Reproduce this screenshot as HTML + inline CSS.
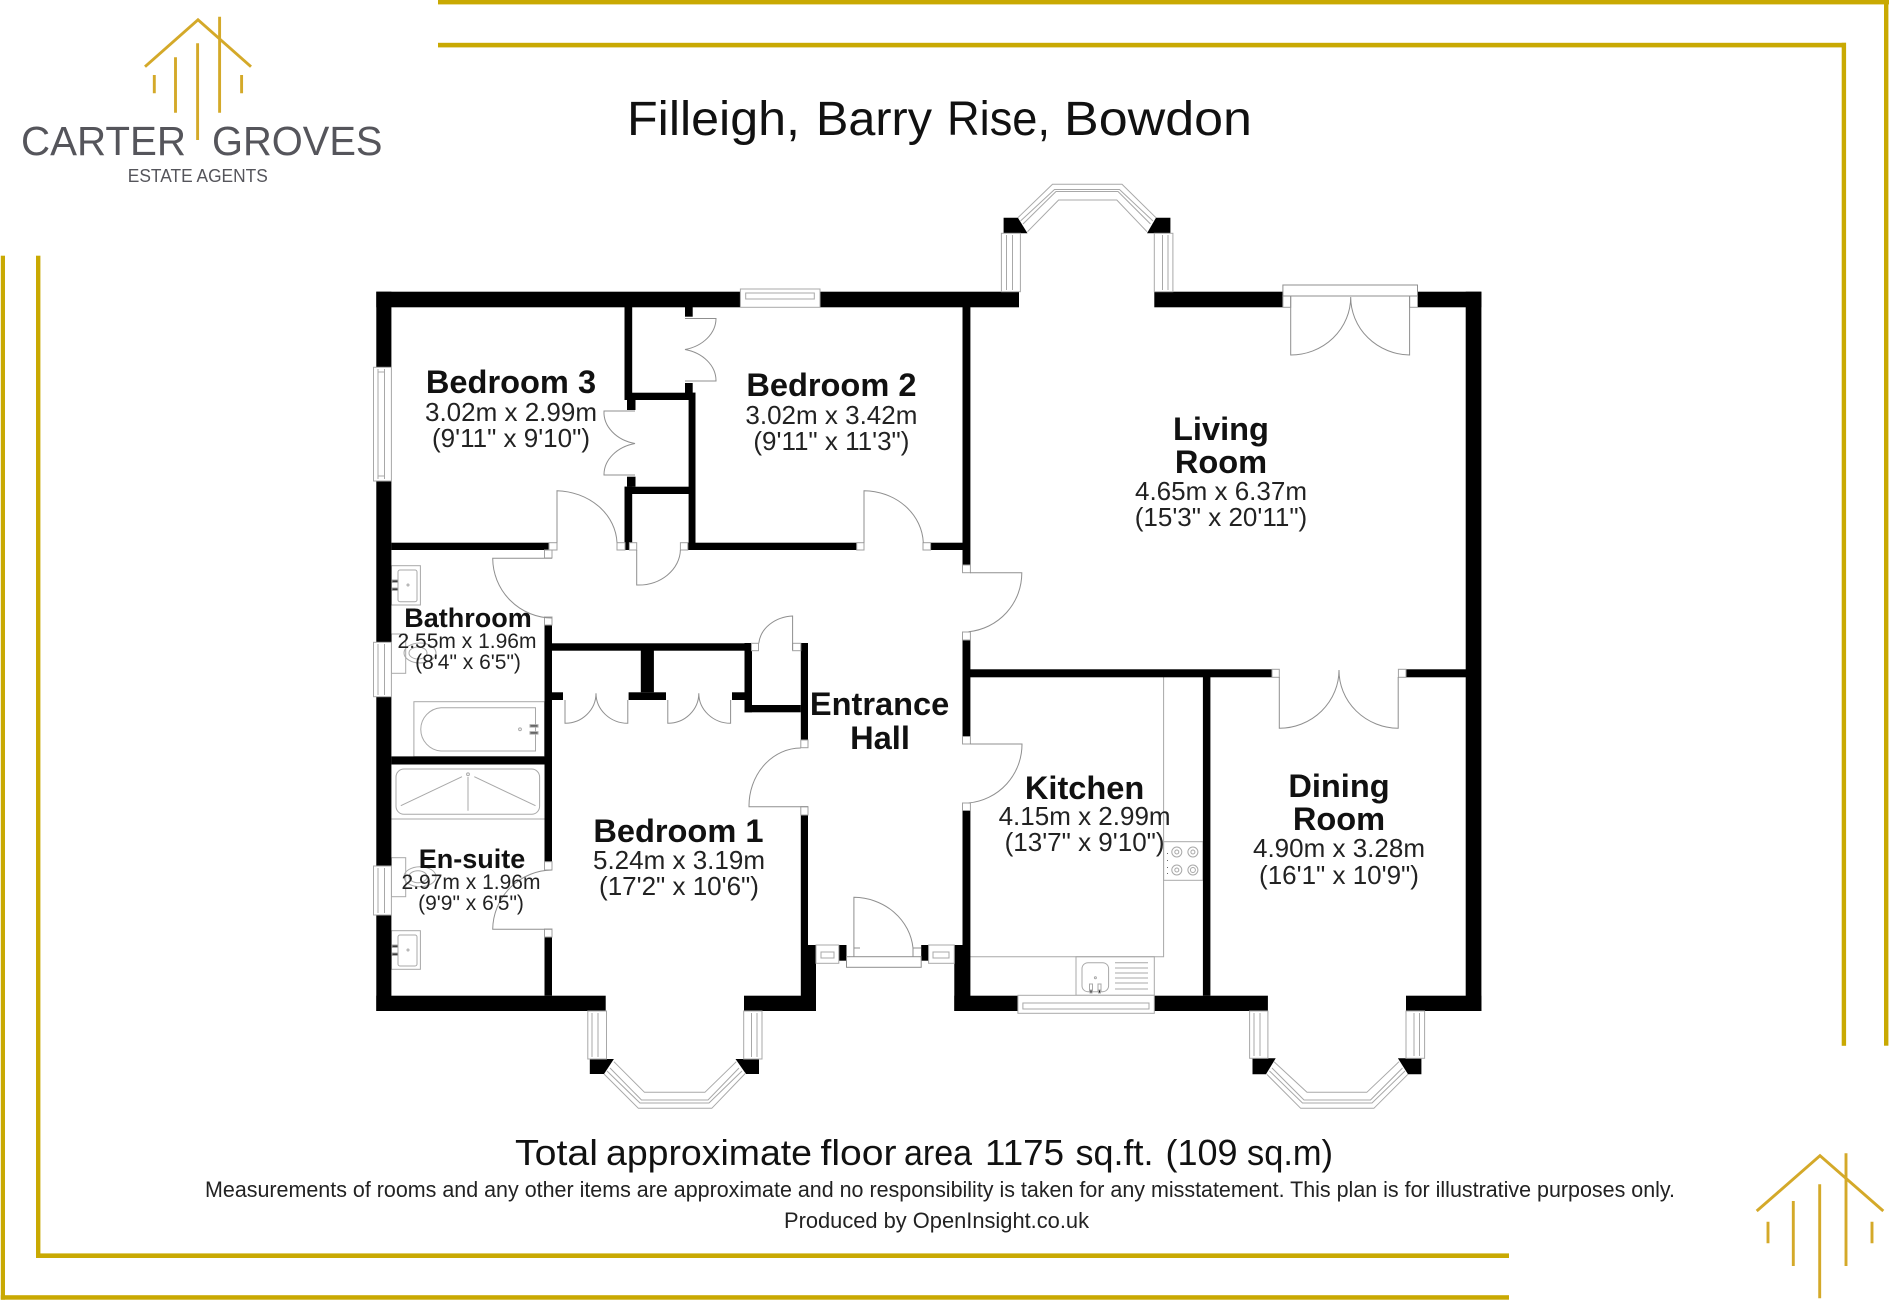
<!DOCTYPE html>
<html lang="en"><head><meta charset="utf-8"><title>Filleigh, Barry Rise, Bowdon</title>
<style>
html,body{margin:0;padding:0;background:#fff}
svg{display:block}
.l{fill:none;stroke:#8f8f8f;stroke-width:1}
.j{fill:#fff;stroke:#a0a0a0;stroke-width:1}
.g{fill:none;stroke:#a8a8a8;stroke-width:1}
.gold{fill:#c9a902}
.logo{fill:none;stroke:#d4a929;stroke-width:2.9}
text{font-family:"Liberation Sans",sans-serif;fill:#111}
.b{font-weight:bold;font-size:32.6px;text-anchor:middle}
.n{font-size:26px;text-anchor:middle;fill:#222}
.bs{font-weight:bold;font-size:27px;text-anchor:middle}
.ns{font-size:21px;text-anchor:middle;fill:#222}
.t{font-size:48px;fill:#111}
.f{font-size:36px;fill:#111}
</style></head><body>
<svg xmlns="http://www.w3.org/2000/svg" width="1889" height="1302" viewBox="0 0 1889 1302">
<rect width="1889" height="1302" fill="#fff"/>

<!-- gold frame -->
<g class="gold">
<rect x="438" y="0" width="1451" height="4.4"/>
<rect x="438" y="42.8" width="1408" height="4.6"/>
<rect x="1841.7" y="42.8" width="4.4" height="1003"/>
<rect x="1884" y="0" width="4.4" height="1045.7"/>
<rect x="0.8" y="255.7" width="4.2" height="1044"/>
<rect x="36" y="255.7" width="4.4" height="1002.3"/>
<rect x="36" y="1253.4" width="1473" height="4.6"/>
<rect x="0.8" y="1295.2" width="1508.2" height="4.5"/>
</g>

<!-- top-left logo -->
<g class="logo">
<polyline points="145,66.7 198,19.8 251,66.7"/>
<path d="M154.3 75V93.3M175.5 57.3V112.7M197.6 43.3V140M219.6 16.7V112.7M241.6 75V93.3"/>
</g>
<text x="21" y="155" font-size="41" textLength="165" lengthAdjust="spacingAndGlyphs" style="fill:#55555b">CARTER</text>
<text x="212" y="155" font-size="41" textLength="170.5" lengthAdjust="spacingAndGlyphs" style="fill:#55555b">GROVES</text>
<text x="127.8" y="182" font-size="18" textLength="140" lengthAdjust="spacingAndGlyphs" style="fill:#55555b">ESTATE AGENTS</text>

<!-- bottom-right logo -->
<g class="logo">
<polyline points="1756.7,1211 1820,1155.7 1883.3,1211"/>
<path d="M1768 1221.7V1243.3M1793.3 1201V1266M1819.7 1184.3V1298.3M1846 1153.3V1266M1872 1221.7V1243.3"/>
</g>

<!-- title -->
<text class="t" x="627" y="135" textLength="173" lengthAdjust="spacingAndGlyphs">Filleigh,</text>
<text class="t" x="816" y="135" textLength="116" lengthAdjust="spacingAndGlyphs">Barry</text>
<text class="t" x="947" y="135" textLength="103" lengthAdjust="spacingAndGlyphs">Rise,</text>
<text class="t" x="1064" y="135" textLength="188" lengthAdjust="spacingAndGlyphs">Bowdon</text>

<!-- fixtures -->
<g class="g">
<!-- kitchen -->
<path d="M1163.6 677V956.7H970"/>
<rect x="1163.6" y="841.7" width="39.4" height="38.6"/>
<circle cx="1176.8" cy="852" r="5"/><circle cx="1176.8" cy="852" r="2"/>
<circle cx="1192.9" cy="852" r="5"/><circle cx="1192.9" cy="852" r="2"/>
<circle cx="1176.8" cy="870" r="5"/><circle cx="1176.8" cy="870" r="2"/>
<circle cx="1192.9" cy="870" r="5"/><circle cx="1192.9" cy="870" r="2.5"/>
<path d="M1167.5 853v1M1167.5 860v1M1167.5 867v1M1167.5 873v1" stroke="#666"/>
<rect x="1076" y="956.7" width="78.3" height="38.6"/>
<rect x="1082" y="962.7" width="26.6" height="29" rx="6"/>
<path d="M1115 962.7h33M1115 968h33M1115 973h33M1115 978h33M1115 983h33M1115 989h33"/>
<circle cx="1095.4" cy="977.7" r="1"/>
<rect x="1089.5" y="984" width="3" height="7"/><rect x="1098" y="984" width="3" height="7"/>
<rect x="1090" y="990" width="2" height="3" fill="#222"/><rect x="1098.5" y="990" width="2" height="3" fill="#222"/>
<!-- bathroom -->
<rect x="391.4" y="565.7" width="29" height="39.3"/>
<rect x="398" y="570" width="19" height="31.7" rx="2"/>
<circle cx="408" cy="585" r="1"/>
<rect x="391.4" y="634" width="14.3" height="39.3"/>
<ellipse cx="420" cy="653" rx="16" ry="10"/>
<ellipse cx="418" cy="653" rx="9" ry="6"/>
<rect x="413.9" y="701.7" width="130.6" height="55"/>
<path d="M535.5 707.7H441a21.7 21.7 0 0 0 0 43.3h94.5z"/>
<circle cx="520" cy="729.3" r="1.4"/>
<rect x="530" y="724.7" width="8" height="2.4" fill="#555"/><rect x="530" y="731.7" width="8" height="2.4" fill="#555"/>
<!-- shower -->
<path d="M391.4 819H544.5"/>
<rect x="396" y="769" width="143.6" height="45.3" rx="8"/>
<circle cx="468" cy="774.3" r="1.4"/>
<path d="M468 777V810.7M462 776.7L400.8 805.7M474.3 776.7L535.5 805.7"/>
<!-- en-suite -->
<rect x="391.4" y="857.7" width="14.3" height="39"/>
<ellipse cx="420" cy="876.7" rx="16" ry="10"/>
<ellipse cx="418" cy="876.7" rx="9" ry="6"/>
<rect x="391.4" y="930.7" width="29" height="38.6"/>
<rect x="398" y="935" width="19" height="31" rx="2"/>
<circle cx="408" cy="950" r="1"/>
<rect x="392" y="580" width="6" height="2.4" fill="#333"/><rect x="392" y="588" width="6" height="2.4" fill="#333"/>
<rect x="392" y="945" width="6" height="2.4" fill="#333"/><rect x="392" y="953" width="6" height="2.4" fill="#333"/>
</g>

<!-- walls -->
<g fill="#000">
<rect x="376.3" y="291.7" width="364.1" height="15.6"/>
<rect x="820" y="291.7" width="199" height="15.6"/>
<rect x="1154.3" y="291.7" width="128.6" height="15.6"/>
<rect x="1417.5" y="291.7" width="63.9" height="15.6"/>
<rect x="376.3" y="291.7" width="15.1" height="75.6"/>
<rect x="376.3" y="481" width="15.1" height="161.3"/>
<rect x="376.3" y="696.7" width="15.1" height="169.3"/>
<rect x="376.3" y="915" width="15.1" height="96"/>
<rect x="1465.7" y="291.7" width="15.7" height="719.3"/>
<rect x="376.3" y="995.7" width="229.4" height="15.3"/>
<rect x="744" y="995.7" width="72" height="15.3"/>
<rect x="800.8" y="945" width="15.2" height="66"/>
<rect x="800.8" y="815" width="7.2" height="130"/>
<rect x="800.8" y="643" width="7.2" height="97"/>
<rect x="954.3" y="995.7" width="63.6" height="15.3"/>
<rect x="1154.3" y="995.7" width="113.6" height="15.3"/>
<rect x="1406" y="995.7" width="75.4" height="15.3"/>
<rect x="954.3" y="945" width="16.1" height="66"/>
<rect x="962.5" y="810.5" width="7.9" height="134.5"/>
<rect x="962.5" y="640" width="7.9" height="96.5"/>
<rect x="962.5" y="307" width="7.9" height="258"/>
<rect x="962.5" y="669.3" width="309.5" height="8"/>
<rect x="1406" y="669.3" width="60" height="8"/>
<rect x="1202.9" y="677" width="7.5" height="318.7"/>
<!-- bedrooms -->
<rect x="624.5" y="307" width="7.7" height="93"/>
<rect x="627" y="400" width="8.5" height="10"/>
<rect x="627" y="476.7" width="8.5" height="10"/>
<rect x="624.5" y="486.7" width="7.7" height="63.3"/>
<rect x="624.5" y="392.7" width="71" height="7.3"/>
<rect x="685" y="307" width="7.7" height="9.7"/>
<rect x="685" y="383" width="7.7" height="10"/>
<rect x="688.6" y="392.7" width="6.9" height="157.3"/>
<rect x="624.5" y="486.7" width="71" height="7.3"/>
<rect x="391.4" y="542.7" width="157.6" height="7.3"/>
<rect x="687.8" y="542.7" width="168.9" height="7.3"/>
<rect x="930.6" y="542.7" width="32.4" height="7.3"/>
<rect x="544.5" y="625" width="7.5" height="236.7"/>
<rect x="544.5" y="937" width="7.5" height="58.7"/>
<rect x="391.4" y="756.4" width="160" height="8.1"/>
<rect x="552" y="643.3" width="198" height="7.4"/>
<rect x="640.8" y="650" width="13.1" height="42.3"/>
<rect x="628.6" y="692.3" width="37.4" height="7.7"/>
<rect x="552" y="692.3" width="11" height="7.7"/>
<rect x="732" y="692.3" width="12.5" height="7.7"/>
<rect x="744.5" y="643" width="7.5" height="69.3"/>
<rect x="744.5" y="705" width="56.3" height="7.3"/>
<!-- entrance posts -->
<rect x="838.8" y="945" width="7.7" height="15.7"/>
<rect x="921.2" y="945" width="7.4" height="15.7"/>
<!-- bay blocks -->
<polygon points="1003.6,217.7 1017.9,217.7 1027.5,233.3 1003.6,233.3"/>
<polygon points="1170.4,217.7 1156,217.7 1147,233.3 1170.4,233.3"/>
<polygon points="589.8,1059 613.9,1059 604,1074 589.8,1074"/>
<polygon points="759,1059 735.5,1059 746,1074 759,1074"/>
<polygon points="1252.5,1058.3 1275.7,1058.3 1266,1074.3 1252.5,1074.3"/>
<polygon points="1421.4,1058.3 1397.9,1058.3 1408,1074.3 1421.4,1074.3"/>
</g>

<!-- door jambs -->
<g class="j">
<rect x="549" y="542.7" width="8" height="7.3"/>
<rect x="617" y="542.7" width="8" height="7.3"/>
<rect x="629.4" y="542.7" width="7.3" height="7.3"/>
<rect x="680.4" y="542.7" width="7.4" height="7.3"/>
<rect x="856.7" y="542.7" width="7.3" height="7.3"/>
<rect x="923" y="542.7" width="7.6" height="7.3"/>
<rect x="544.5" y="550" width="7.5" height="8"/>
<rect x="544.5" y="617" width="7.5" height="8"/>
<rect x="544.5" y="861.7" width="7.5" height="8.3"/>
<rect x="544.5" y="929" width="7.5" height="8"/>
<rect x="751.5" y="643.3" width="7" height="7.4"/>
<rect x="792.6" y="643.3" width="8.2" height="7.4"/>
<rect x="800.8" y="740" width="7.2" height="7.7"/>
<rect x="800.8" y="806.7" width="7.2" height="8.3"/>
<rect x="962.5" y="565" width="7.9" height="7.7"/>
<rect x="962.5" y="632" width="7.9" height="8"/>
<rect x="962.5" y="736.5" width="7.9" height="7.5"/>
<rect x="962.5" y="803" width="7.9" height="7.5"/>
<rect x="1272" y="669.3" width="7.3" height="8"/>
<rect x="1398.4" y="669.3" width="7.6" height="8"/>
<rect x="1282.9" y="296" width="7.8" height="11.3"/>
<rect x="1409.6" y="296" width="7.9" height="11.3"/>
</g>

<!-- doors -->
<g class="l">
<path d="M557 542.7V490.7A62 54 0 0 1 617 542.7"/>
<path d="M864 542.7V490.7A60 54 0 0 1 923.3 542.7"/>
<path d="M636.7 550V585A42 36 0 0 0 680.4 550"/>
<path d="M552 558.3H492.7A60 60 0 0 0 552 618"/>
<path d="M552 870A60 60 0 0 0 492.7 929.3H552"/>
<path d="M792.6 650V616A36 30 0 0 0 758.8 643.3"/>
<path d="M800.8 748A52 58 0 0 0 749 806.7H808"/>
<path d="M685 318.5H716A40 32 0 0 1 685 349.5A40 32 0 0 1 716 380.5L716 381H685"/>
<path d="M635 411H604A40 32 0 0 0 635 443.5A40 32 0 0 0 604 474.5L604 475H635"/>
<path d="M565 700V723.3A31 30 0 0 0 596 693.3A32 30 0 0 0 627.8 723.3V700"/>
<path d="M667.8 700V723.3A31 30 0 0 0 698.8 693.3A32 30 0 0 0 730.6 723.3V700"/>
<path d="M970 572.7H1021.8A59 59 0 0 1 968.6 631.7"/>
<path d="M970 744H1022A59 59 0 0 1 968.6 803"/>
<rect x="1282.9" y="285" width="134.6" height="11" fill="#fff"/>
<path d="M1290.7 296V355A60 58 0 0 0 1350.7 297A60 58 0 0 0 1409.6 355V296"/>
<path d="M1279.3 677V728.3A60 58 0 0 0 1339 670A60 58 0 0 0 1398.2 728.3V677"/>
<rect x="846.5" y="956.7" width="74.7" height="10.6" fill="#fff"/>
<path d="M853.9 956.7V897.3A60 56 0 0 1 913 948V956.7M853.9 948H860M913 948H921"/>
</g>

<!-- windows -->
<g class="g">
<rect x="373.5" y="367.3" width="17.9" height="113.7" fill="#fff"/>
<path d="M378 369V479M384.5 369V479M378 372h7M378 476h7"/>
<rect x="373.5" y="642.3" width="17.9" height="54.4" fill="#fff"/>
<path d="M378 644V695M384.5 644V695"/>
<rect x="373.5" y="866" width="17.9" height="49" fill="#fff"/>
<path d="M378 868V913M384.5 868V913"/>
<rect x="740.4" y="289" width="79.6" height="18.3" fill="#fff"/>
<rect x="745.7" y="293" width="68.6" height="6"/>
<rect x="1017.9" y="995.3" width="136.4" height="18" fill="#fff"/>
<rect x="1022.9" y="1003" width="126.1" height="6"/>
<rect x="816" y="945" width="22.8" height="18.3" fill="#fff"/>
<rect x="821" y="952" width="13" height="6"/>
<rect x="928.6" y="945" width="25.7" height="18.3" fill="#fff"/>
<rect x="933" y="952" width="16" height="6"/>
<rect x="1001.4" y="233.3" width="19" height="58.4" fill="#fff"/>
<path d="M1006.5 235V290M1012.5 235V290"/>
<rect x="1154.3" y="233.3" width="18.6" height="58.4" fill="#fff"/>
<path d="M1162.5 235V290M1168 235V290"/>
<path d="M1017.9 217.7L1052.5 184.3H1122L1156 217.7"/>
<path d="M1027.5 231.7L1058.6 200H1116.8L1147 231.7"/>
<path d="M1020.5 221L1054.5 189.5H1119.5L1153 221M1023 224L1056 191.5H1118L1150.5 224"/>
<rect x="587.8" y="1011" width="18.7" height="48" fill="#fff"/>
<path d="M592 1013V1057M598 1013V1057"/>
<rect x="743.7" y="1011" width="18.3" height="48" fill="#fff"/>
<path d="M751.5 1013V1057M757 1013V1057"/>
<path d="M604 1074L638.4 1108.3H711.8L745.7 1073"/>
<path d="M613.9 1061.7L644.5 1092.3H704.9L736.3 1061.7"/>
<path d="M607 1071L640 1103H709L742 1071M610 1068L641.5 1100H708L739 1068"/>
<rect x="1249.6" y="1011" width="18.3" height="47.3" fill="#fff"/>
<path d="M1254 1013V1056M1260 1013V1056"/>
<rect x="1406" y="1011" width="18.6" height="47.3" fill="#fff"/>
<path d="M1414 1013V1056M1419.5 1013V1056"/>
<path d="M1266.8 1074.3L1300.7 1108.3H1373.9L1407.9 1074.3"/>
<path d="M1274 1061.7L1307 1092.3H1366.8L1399 1061.7"/>
<path d="M1269.5 1071L1302.5 1103H1372L1405 1071M1272 1068L1304 1100H1370.5L1402.5 1068"/>
</g>

<!-- labels -->
<text class="b" x="511" y="393">Bedroom 3</text>
<text class="n" x="511" y="421">3.02m x 2.99m</text>
<text class="n" x="511" y="447">(9'11" x 9'10")</text>
<text class="b" x="831.4" y="396">Bedroom 2</text>
<text class="n" x="831.4" y="424">3.02m x 3.42m</text>
<text class="n" x="831.4" y="450">(9'11" x 11'3")</text>
<text class="b" x="1221" y="440">Living</text>
<text class="b" x="1221" y="473">Room</text>
<text class="n" x="1221" y="500">4.65m x 6.37m</text>
<text class="n" x="1221" y="526">(15'3" x 20'11")</text>
<text class="bs" x="468" y="627">Bathroom</text>
<text class="ns" x="467" y="648">2.55m x 1.96m</text>
<text class="ns" x="468" y="669">(8'4" x 6'5")</text>
<text class="b" x="879.6" y="715">Entrance</text>
<text class="b" x="880" y="749">Hall</text>
<text class="b" x="678.4" y="842">Bedroom 1</text>
<text class="n" x="679" y="869">5.24m x 3.19m</text>
<text class="n" x="679" y="895">(17'2" x 10'6")</text>
<text class="bs" x="472" y="868">En-suite</text>
<text class="ns" x="471" y="889">2.97m x 1.96m</text>
<text class="ns" x="471" y="910">(9'9" x 6'5")</text>
<text class="b" x="1084.6" y="799">Kitchen</text>
<text class="n" x="1084.6" y="825">4.15m x 2.99m</text>
<text class="n" x="1084.6" y="851">(13'7" x 9'10")</text>
<text class="b" x="1339" y="797">Dining</text>
<text class="b" x="1339" y="830">Room</text>
<text class="n" x="1339" y="857">4.90m x 3.28m</text>
<text class="n" x="1339" y="884">(16'1" x 10'9")</text>

<!-- footer -->
<text class="f" x="515" y="1165" textLength="83" lengthAdjust="spacingAndGlyphs">Total</text>
<text class="f" x="606" y="1165" textLength="206" lengthAdjust="spacingAndGlyphs">approximate</text>
<text class="f" x="820.5" y="1165" textLength="76" lengthAdjust="spacingAndGlyphs">floor</text>
<text class="f" x="904" y="1165" textLength="68" lengthAdjust="spacingAndGlyphs">area</text>
<text class="f" x="985" y="1165" textLength="79" lengthAdjust="spacingAndGlyphs">1175</text>
<text class="f" x="1075.5" y="1165" textLength="78" lengthAdjust="spacingAndGlyphs">sq.ft.</text>
<text class="f" x="1165.5" y="1165" textLength="72" lengthAdjust="spacingAndGlyphs">(109</text>
<text class="f" x="1247" y="1165" textLength="86" lengthAdjust="spacingAndGlyphs">sq.m)</text>
<text x="205" y="1197" font-size="22.5" textLength="1470" lengthAdjust="spacingAndGlyphs" style="fill:#222">Measurements of rooms and any other items are approximate and no responsibility is taken for any misstatement. This plan is for illustrative purposes only.</text>
<text x="784" y="1228" font-size="22.5" textLength="305" lengthAdjust="spacingAndGlyphs" style="fill:#222">Produced by OpenInsight.co.uk</text>
</svg>
</body></html>
